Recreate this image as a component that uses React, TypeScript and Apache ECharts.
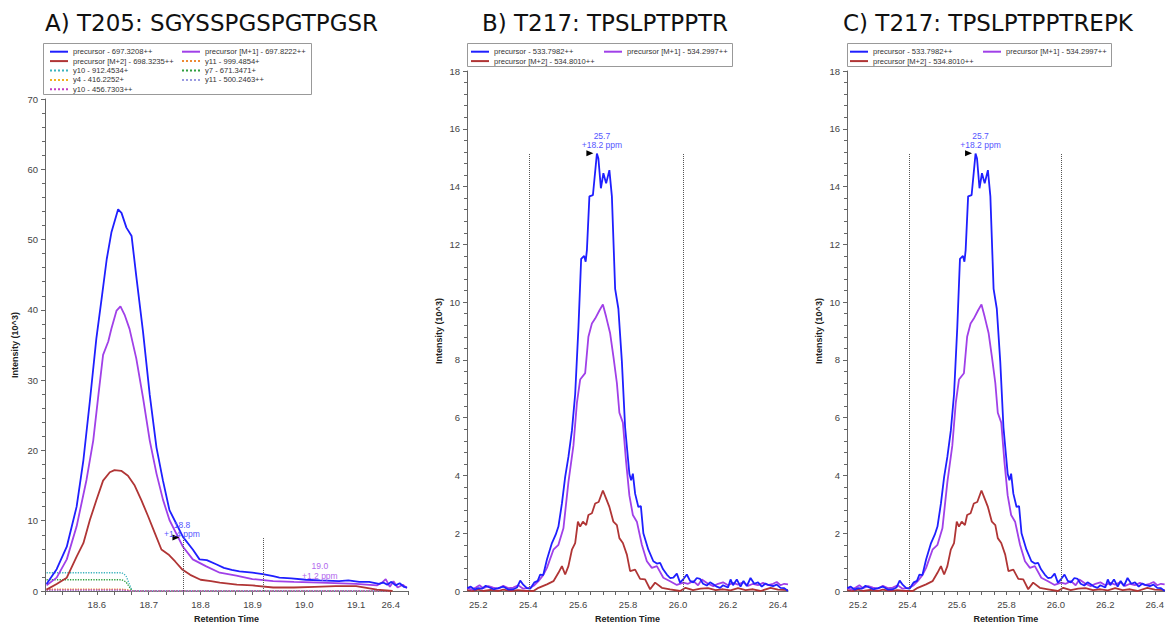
import React, { useEffect, useRef } from "react";
import * as echarts from "echarts";

// ---------- Panel A data (T205: SGYSSPGSPGTPGSR) ----------
const aBlueTime = [18.503, 18.5225, 18.542, 18.561, 18.574, 18.5865, 18.599, 18.609, 18.619, 18.628, 18.641, 18.6475, 18.657, 18.667, 18.676, 18.689, 18.702, 18.715, 18.7275, 18.74, 18.753, 18.766, 18.785, 18.798, 18.812, 18.83, 18.845, 18.86, 18.875, 18.9, 18.92, 18.94, 18.952, 18.975, 19.003, 19.03, 19.067, 19.085, 19.106, 19.125, 19.144, 19.152, 19.16, 19.168, 19.176, 19.184, 19.192, 19.198];
const aBlueInt = [1.0, 3.1, 6.3, 12.0, 18.6, 27.0, 35.9, 41.5, 47.2, 51.0, 54.3, 53.8, 51.7, 50.5, 44.8, 36.9, 27.9, 20.4, 15.7, 11.5, 9.6, 7.7, 5.9, 4.5, 4.4, 3.8, 3.3, 3.0, 2.8, 2.6, 2.4, 2.1, 1.9, 1.8, 1.6, 1.5, 1.4, 1.5, 1.3, 1.3, 1.0, 1.2, 0.9, 1.3, 0.8, 1.1, 0.6, 0.5];
const aPurpleTime = [18.503, 18.5225, 18.542, 18.561, 18.58, 18.593, 18.603, 18.612, 18.622, 18.628, 18.638, 18.6455, 18.654, 18.663, 18.676, 18.689, 18.702, 18.715, 18.7275, 18.74, 18.753, 18.766, 18.785, 18.811, 18.837, 18.869, 18.9, 18.94, 18.98, 19.03, 19.1, 19.14, 19.15, 19.157, 19.165, 19.172, 19.18, 19.19, 19.198];
const aPurpleInt = [0.8, 1.9, 4.5, 9.2, 15.8, 21.4, 27.9, 33.6, 35.5, 37.3, 39.9, 40.5, 39.2, 37.3, 33.1, 27.5, 21.4, 16.7, 13.0, 10.1, 8.2, 6.3, 4.5, 3.5, 2.6, 2.2, 1.7, 1.4, 1.3, 1.2, 1.0, 0.8, 1.2, 1.7, 0.6, 1.4, 0.5, 0.9, 0.4];
const aRedTime = [18.503, 18.5225, 18.542, 18.561, 18.574, 18.5865, 18.599, 18.612, 18.625, 18.634, 18.647, 18.66, 18.673, 18.686, 18.699, 18.712, 18.7245, 18.738, 18.751, 18.764, 18.78, 18.8, 18.82, 18.837, 18.87, 18.9, 18.94, 18.98, 19.02, 19.06, 19.1, 19.14, 19.17];
const aRedInt = [0.2, 1.0, 1.9, 4.9, 6.8, 10.1, 12.9, 15.7, 16.9, 17.2, 17.1, 16.4, 15.0, 12.9, 10.6, 8.2, 5.9, 5.2, 4.2, 3.1, 2.3, 1.6, 1.4, 1.2, 0.9, 0.8, 0.5, 0.5, 0.6, 0.7, 0.7, 0.2, 0.0];
const aFragTime = [18.503, 18.648, 18.656, 18.668, 19.17];
const aY11Int = [0.25, 0.25, 0.2, 0, 0];
const aY10Int = [2.6, 2.6, 2.2, 0, 0];
const aY7Int = [1.6, 1.6, 1.3, 0, 0];
const aY4Int = [0.2, 0.2, 0.15, 0, 0];
const aY11ppInt = [0.1, 0.1, 0.08, 0, 0];
const aY10ppInt = [0.15, 0.15, 0.1, 0, 0];
const aTickValues = [18.6, 18.7, 18.8, 18.9, 19.0, 19.1, 19.1667];
const aTickLabels = ["18.6", "18.7", "18.8", "18.9", "19.0", "19.1", "26.4"];
const aBoundaries = [18.766, 18.92];
const aBoundaryHeight = 7.6;

// ---------- Panels B / C data (T217: TPSLPTPPTR) ----------
const bBlueTime = [25.156, 25.17, 25.185, 25.2, 25.215, 25.23, 25.245, 25.261, 25.28, 25.301, 25.32, 25.341, 25.355, 25.368, 25.381, 25.395, 25.408, 25.425, 25.438, 25.448, 25.46, 25.475, 25.495, 25.51, 25.521, 25.535, 25.548, 25.561, 25.575, 25.588, 25.601, 25.612, 25.624, 25.63, 25.635, 25.645, 25.659, 25.675, 25.681, 25.691, 25.701, 25.712, 25.725, 25.735, 25.748, 25.761, 25.775, 25.788, 25.805, 25.812, 25.819, 25.828, 25.841, 25.851, 25.861, 25.881, 25.901, 25.915, 25.928, 25.94, 25.955, 25.968, 25.981, 25.995, 26.008, 26.02, 26.035, 26.048, 26.061, 26.075, 26.088, 26.1, 26.115, 26.128, 26.141, 26.155, 26.168, 26.18, 26.2, 26.21, 26.22, 26.235, 26.25, 26.262, 26.275, 26.29, 26.305, 26.32, 26.335, 26.35, 26.365, 26.38, 26.395, 26.41, 26.425, 26.44];
const bBlueInt = [0.1, 0.15, 0.05, 0.1, 0.08, 0.18, 0.12, 0.06, 0.1, 0.15, 0.05, 0.06, 0.12, 0.36, 0.21, 0.1, 0.08, 0.3, 0.35, 0.57, 0.55, 1.09, 1.66, 1.95, 2.23, 3.03, 3.95, 4.64, 5.55, 6.81, 9.1, 11.5, 11.6, 11.4, 11.8, 13.66, 13.7, 15.14, 14.97, 13.94, 14.46, 14.11, 14.57, 13.66, 10.46, 9.77, 7.94, 5.66, 4.06, 3.83, 4.06, 3.37, 2.91, 2.94, 2.0, 1.43, 1.03, 0.95, 0.97, 0.75, 0.57, 0.45, 0.46, 0.6, 0.29, 0.4, 0.57, 0.35, 0.3, 0.45, 0.42, 0.25, 0.19, 0.3, 0.23, 0.15, 0.11, 0.2, 0.12, 0.4, 0.2, 0.4, 0.15, 0.35, 0.17, 0.45, 0.25, 0.3, 0.15, 0.26, 0.2, 0.17, 0.22, 0.11, 0.1, 0.0];
const bPurpleTime = [25.156, 25.175, 25.19, 25.205, 25.22, 25.241, 25.26, 25.28, 25.3, 25.32, 25.34, 25.36, 25.38, 25.408, 25.425, 25.441, 25.46, 25.475, 25.501, 25.521, 25.541, 25.561, 25.581, 25.595, 25.608, 25.628, 25.641, 25.655, 25.668, 25.685, 25.699, 25.712, 25.728, 25.741, 25.755, 25.765, 25.779, 25.792, 25.805, 25.819, 25.835, 25.855, 25.875, 25.895, 25.915, 25.941, 25.968, 25.995, 26.021, 26.04, 26.061, 26.08, 26.095, 26.12, 26.141, 26.16, 26.18, 26.2, 26.22, 26.24, 26.26, 26.28, 26.3, 26.32, 26.34, 26.36, 26.38, 26.395, 26.41, 26.425, 26.44];
const bPurpleInt = [0.1, 0.05, 0.12, 0.2, 0.1, 0.17, 0.12, 0.08, 0.18, 0.1, 0.12, 0.2, 0.08, 0.11, 0.2, 0.34, 0.55, 0.8, 1.43, 1.6, 2.17, 3.77, 5.03, 6.51, 7.32, 7.54, 8.8, 9.26, 9.43, 9.71, 9.92, 9.49, 8.92, 8.12, 7.2, 6.17, 5.83, 4.46, 3.31, 2.63, 2.4, 1.6, 1.03, 0.8, 0.86, 0.46, 0.34, 0.21, 0.29, 0.25, 0.34, 0.2, 0.4, 0.25, 0.17, 0.25, 0.3, 0.2, 0.28, 0.22, 0.3, 0.18, 0.25, 0.2, 0.28, 0.2, 0.25, 0.31, 0.2, 0.25, 0.23];
const bRedTime = [25.156, 25.18, 25.2, 25.22, 25.25, 25.28, 25.3, 25.33, 25.36, 25.39, 25.421, 25.441, 25.475, 25.501, 25.521, 25.535, 25.548, 25.561, 25.575, 25.588, 25.599, 25.608, 25.619, 25.632, 25.641, 25.655, 25.668, 25.682, 25.699, 25.712, 25.725, 25.741, 25.755, 25.765, 25.779, 25.795, 25.808, 25.828, 25.848, 25.868, 25.888, 25.908, 25.935, 25.968, 26.008, 26.03, 26.06, 26.09, 26.12, 26.15, 26.18, 26.21, 26.24, 26.27, 26.3, 26.33, 26.37, 26.4, 26.44];
const bRedInt = [0.03, 0.0, 0.05, 0.0, 0.04, 0.0, 0.05, 0.0, 0.03, 0.0, 0.0, 0.11, 0.23, 0.34, 0.63, 0.86, 0.57, 0.86, 1.43, 1.66, 2.4, 2.23, 2.4, 2.28, 2.63, 2.69, 3.03, 3.08, 3.48, 3.2, 2.91, 2.4, 2.28, 1.83, 1.66, 1.26, 0.69, 0.74, 0.42, 0.4, 0.06, 0.29, 0.11, 0.06, 0.0, 0.11, 0.03, 0.08, 0.1, 0.03, 0.06, 0.02, 0.1, 0.03, 0.06, 0.0, 0.11, 0.05, 0.03];
const bTickValues = [25.2, 25.4, 25.6, 25.8, 26.0, 26.2, 26.4];
const bTickLabels = ["25.2", "25.4", "25.6", "25.8", "26.0", "26.2", "26.4"];
const bBoundaries = [25.405, 26.02];
const bBoundaryHeight = 15.15;

const titles = ["A) T205: SGYSSPGSPGTPGSR", "B) T217: TPSLPTPPTR", "C) T217: TPSLPTPPTREPK"];

const BLUE = "#1f1fff";
const PURPLE = "#a040e8";
const RED = "#b03535";
const SANS = "'Liberation Sans', Arial, sans-serif";

const pairs = (t: number[], v: number[]) => t.map((x, i) => [x, v[i]]);

function range(a: number, b: number, step: number) {
  const out: number[] = [];
  for (let k = 0; a + k * step <= b + 1e-9; k++) out.push(+(a + k * step).toFixed(4));
  return out;
}

function xAxisCfg(grid: number, min: number, max: number, labelVals: number[], labels: string[], minorVals: number[]) {
  return {
    type: "value",
    gridIndex: grid,
    min,
    max,
    name: "Retention Time",
    nameLocation: "middle",
    nameGap: 23,
    nameTextStyle: { fontFamily: SANS, fontSize: 9, fontWeight: "bold", color: "#222" },
    axisLine: { show: true, lineStyle: { color: "#666", width: 1 } },
    axisTick: { show: true, length: 4, customValues: minorVals, lineStyle: { color: "#666" } },
    axisLabel: {
      show: true,
      customValues: labelVals,
      margin: 8,
      fontFamily: SANS,
      fontSize: 9.5,
      color: "#444",
      formatter: (v: number) => {
        let best = 0;
        labelVals.forEach((lv, i) => {
          if (Math.abs(lv - v) < Math.abs(labelVals[best] - v)) best = i;
        });
        return labels[best];
      },
    },
    splitLine: { show: false },
  };
}

function yAxisCfg(grid: number, max: number, interval: number, gap: number) {
  return {
    type: "value",
    gridIndex: grid,
    min: 0,
    max,
    interval,
    name: "Intensity (10^3)",
    nameLocation: "middle",
    nameRotate: 90,
    nameGap: gap,
    nameTextStyle: { fontFamily: SANS, fontSize: 9, fontWeight: "bold", color: "#222" },
    axisLine: { show: true, lineStyle: { color: "#666", width: 1 } },
    axisTick: { show: true, length: 4, lineStyle: { color: "#666" } },
    minorTick: { show: true, splitNumber: 5, length: 3, lineStyle: { color: "#666" } },
    axisLabel: { fontFamily: SANS, fontSize: 9.5, color: "#444", margin: 7 },
    splitLine: { show: false },
  };
}

function lineSeries(name: string, t: number[], v: number[], color: string, grid: number, opts: any = {}) {
  return {
    type: "line",
    name,
    xAxisIndex: grid,
    yAxisIndex: grid,
    data: pairs(t, v),
    symbol: "none",
    showSymbol: false,
    lineStyle: { color, width: opts.width ?? 1.8, type: opts.dotted ? "dotted" : "solid" },
    itemStyle: { color },
    z: opts.z ?? 2,
    silent: true,
    ...(opts.extra || {}),
  };
}

const TRI = "path://M0,0L10,5L0,10Z";

function boundaryLines(xs: number[], h: number) {
  return {
    silent: true,
    symbol: ["none", "none"],
    label: { show: false },
    lineStyle: { type: "dotted", color: "#555", width: 1 },
    data: xs.map((x) => [{ coord: [x, 0] }, { coord: [x, h] }]),
  };
}

function peakMark(coord: number[], text: string, color: string, withTri: boolean, textOffset: number[]) {
  const data: any[] = [];
  if (withTri) {
    data.push({
      coord,
      symbol: TRI,
      symbolSize: [7, 6],
      symbolOffset: [-7, 0],
      itemStyle: { color: "#000" },
      label: { show: false },
    });
  }
  data.push({
    coord,
    symbol: "circle",
    symbolSize: 1,
    itemStyle: { color: "rgba(0,0,0,0)" },
    label: {
      show: true,
      position: "inside",
      offset: textOffset,
      formatter: text,
      color,
      fontFamily: SANS,
      fontSize: 8.5,
      lineHeight: 9.5,
      align: "center",
    },
  });
  return { silent: true, data };
}

export default function App() {
  const ref = useRef<HTMLDivElement>(null);
  useEffect(() => {
    if (!ref.current) return;
    const chart = echarts.init(ref.current, undefined, { renderer: "svg" });

    const aMinor = range(18.5, 19.2, 1 / 30);
    const bMinor = range(25.2, 26.4, 0.05);

    const nA = ["precursor - 697.3208++", "precursor [M+1] - 697.8222++", "precursor [M+2] - 698.3235++"];
    const nFrag = ["y11 - 999.4854+", "y10 - 912.4534+", "y7 - 671.3471+", "y4 - 416.2252+", "y11 - 500.2463++", "y10 - 456.7303++"];
    const nB = ["precursor - 533.7982++", "precursor [M+1] - 534.2997++", "precursor [M+2] - 534.8010++"];

    const legendText = { fontFamily: SANS, fontSize: 7.6, color: "#333", lineHeight: 9.4, height: 9.4 };
    const legendBase = {
      orient: "vertical",
      itemWidth: 18,
      itemHeight: 7,
      itemGap: 0,
      padding: 0,
      selectedMode: false,
      itemStyle: { opacity: 0 },
      textStyle: legendText,
    };

    const series: any[] = [];
    // Panel A fragments
    series.push(lineSeries(nFrag[0], aFragTime, aY11Int, "#ee8a33", 0, { dotted: true, width: 1.3, z: 1 }));
    series.push(lineSeries(nFrag[1], aFragTime, aY10Int, "#3bb3bd", 0, { dotted: true, width: 1.3, z: 1 }));
    series.push(lineSeries(nFrag[2], aFragTime, aY7Int, "#2f9e3e", 0, { dotted: true, width: 1.3, z: 1 }));
    series.push(lineSeries(nFrag[3], aFragTime, aY4Int, "#f0b020", 0, { dotted: true, width: 1.3, z: 1 }));
    series.push(lineSeries(nFrag[4], aFragTime, aY11ppInt, "#9b9be0", 0, { dotted: true, width: 1.3, z: 1 }));
    series.push(lineSeries(nFrag[5], aFragTime, aY10ppInt, "#c33cc3", 0, { dotted: true, width: 1.3, z: 1 }));
    // Panel A precursors
    series.push(lineSeries(nA[2], aRedTime, aRedInt, RED, 0, { extra: { markLine: boundaryLines(aBoundaries, aBoundaryHeight) } }));
    series.push(
      lineSeries(nA[1], aPurpleTime, aPurpleInt, PURPLE, 0, {
        z: 3,
        extra: { markPoint: peakMark([19.03, 3.3], "19.0\n+1.2 ppm", "#b268ee", false, [0, 3]) },
      })
    );
    series.push(
      lineSeries(nA[0], aBlueTime, aBlueInt, BLUE, 0, {
        z: 4,
        extra: { markPoint: peakMark([18.766, 7.6], "18.8\n+1.4 ppm", "#5555ff", true, [-1, -8]) },
      })
    );
    // Panels B and C
    [1, 2].forEach((g) => {
      series.push(lineSeries(nB[2], bRedTime, bRedInt, RED, g, { extra: { markLine: boundaryLines(bBoundaries, bBoundaryHeight) } }));
      series.push(lineSeries(nB[1], bPurpleTime, bPurpleInt, PURPLE, g, { z: 3 }));
      series.push(
        lineSeries(nB[0], bBlueTime, bBlueInt, BLUE, g, {
          z: 4,
          extra: { markPoint: peakMark([25.675, 15.15], "25.7\n+18.2 ppm", "#5555ff", true, [5, -13]) },
        })
      );
    });

    const titleStyle = { fontFamily: "'DejaVu Sans', sans-serif", fontSize: 23, fontWeight: "normal", color: "#111" };

    chart.setOption({
      animation: false,
      backgroundColor: "#fff",
      textStyle: { fontFamily: SANS },
      title: [
        { text: titles[0], left: 45, top: 11, padding: 0, textStyle: titleStyle },
        { text: titles[1], left: 482, top: 11, padding: 0, textStyle: titleStyle },
        { text: titles[2], left: 843, top: 11, padding: 0, textStyle: titleStyle },
      ],
      graphic: [
        { type: "rect", shape: { x: 43.5, y: 43.5, width: 268, height: 51 }, style: { fill: "#fff", stroke: "#999", lineWidth: 1 }, z: 0 },
        { type: "rect", shape: { x: 467.5, y: 43.5, width: 265, height: 23 }, style: { fill: "#fff", stroke: "#999", lineWidth: 1 }, z: 0 },
        { type: "rect", shape: { x: 847.5, y: 43.5, width: 264, height: 23 }, style: { fill: "#fff", stroke: "#999", lineWidth: 1 }, z: 0 },
      ],
      legend: [
        { ...legendBase, left: 49, top: 47, data: [nA[0], nA[2], nFrag[1], nFrag[3], nFrag[5]] },
        { ...legendBase, left: 181, top: 47, data: [nA[1], nFrag[0], nFrag[2], nFrag[4]] },
        { ...legendBase, left: 470, top: 47, data: [nB[0], nB[2]] },
        { ...legendBase, left: 603, top: 47, data: [nB[1]] },
        { ...legendBase, left: 849, top: 47, data: [nB[0], nB[2]] },
        { ...legendBase, left: 982, top: 47, data: [nB[1]] },
      ],
      grid: [
        { left: 45, top: 99, width: 363, height: 496 },
        { left: 467, top: 71, width: 321, height: 524 },
        { left: 847, top: 71, width: 321, height: 524 },
      ],
      xAxis: [
        xAxisCfg(0, 18.5, 19.2, aTickValues, aTickLabels, aMinor),
        xAxisCfg(1, 25.155, 26.44, bTickValues, bTickLabels, bMinor),
        xAxisCfg(2, 25.155, 26.44, bTickValues, bTickLabels, bMinor),
      ],
      yAxis: [yAxisCfg(0, 70, 10, 26), yAxisCfg(1, 18, 2, 24), yAxisCfg(2, 18, 2, 24)],
      series,
    });
    return () => chart.dispose();
  }, []);
  return <div ref={ref} style={{ position: "absolute", left: 0, top: 0, width: 1167, height: 628 }} />;
}
